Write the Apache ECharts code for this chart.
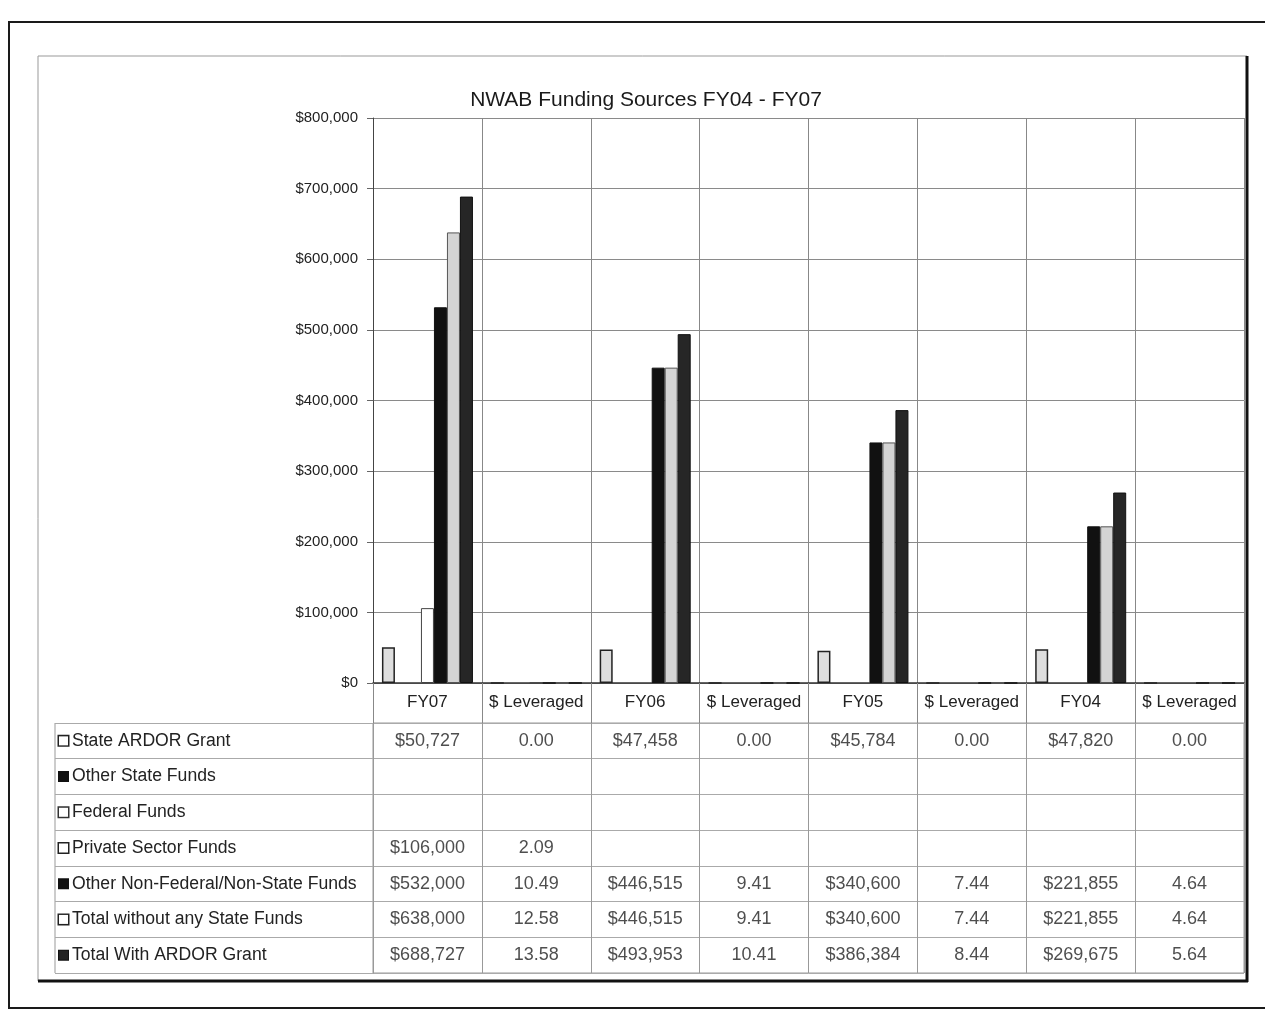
<!DOCTYPE html>
<html>
<head>
<meta charset="utf-8">
<title>NWAB Funding Sources</title>
<script src="https://cdn.jsdelivr.net/npm/echarts@6/dist/echarts.min.js"></script>
<style>
html, body { margin: 0; padding: 0; background: #fff; }
#main { width: 1265px; height: 1018px; }
</style>
</head>
<body>
<div id="main"></div>
<script>
// 数据
var categories = ['FY07', '$ Leveraged', 'FY06', '$ Leveraged', 'FY05', '$ Leveraged', 'FY04', '$ Leveraged'];
var rowNames = ['State ARDOR Grant', 'Other State Funds', 'Federal Funds', 'Private Sector Funds',
    'Other Non-Federal/Non-State Funds', 'Total without any State Funds', 'Total With ARDOR Grant'];
var stateArdor   = [50727, 0.00, 47458, 0.00, 45784, 0.00, 47820, 0.00];
var otherState   = [null, null, null, null, null, null, null, null];
var federal      = [null, null, null, null, null, null, null, null];
var privateFunds = [106000, 2.09, null, null, null, null, null, null];
var otherNonFed  = [532000, 10.49, 446515, 9.41, 340600, 7.44, 221855, 4.64];
var totalNoState = [638000, 12.58, 446515, 9.41, 340600, 7.44, 221855, 4.64];
var totalArdor   = [688727, 13.58, 493953, 10.41, 386384, 8.44, 269675, 5.64];

var allRows = [stateArdor, otherState, federal, privateFunds, otherNonFed, totalNoState, totalArdor];

// 样式
var FONT = "'Liberation Sans', Arial, sans-serif";
var barStyles = [
    { color: '#dedede', borderColor: '#222', borderWidth: 1.5 },
    { color: '#111', borderColor: '#111', borderWidth: 1 },
    { color: '#fff', borderColor: '#333', borderWidth: 1 },
    { color: '#fff', borderColor: '#444', borderWidth: 1 },
    { color: '#111', borderColor: '#111', borderWidth: 1 },
    { color: '#d4d4d4', borderColor: '#555', borderWidth: 1 },
    { color: '#262626', borderColor: '#111', borderWidth: 1 }
];
var keyStyles = {
    k0: { width: 9, height: 9, backgroundColor: '#fff', borderColor: '#222', borderWidth: 1.5 },
    k1: { width: 9, height: 9, backgroundColor: '#111', borderColor: '#111', borderWidth: 1 },
    k2: { width: 9, height: 9, backgroundColor: '#fff', borderColor: '#333', borderWidth: 1.5 },
    k3: { width: 9, height: 9, backgroundColor: '#fff', borderColor: '#222', borderWidth: 1.5 },
    k4: { width: 9, height: 9, backgroundColor: '#111', borderColor: '#111', borderWidth: 1 },
    k5: { width: 9, height: 9, backgroundColor: '#fff', borderColor: '#222', borderWidth: 1.5 },
    k6: { width: 9, height: 9, backgroundColor: '#222', borderColor: '#111', borderWidth: 1 },
    t: { fontSize: 17.6, fontFamily: FONT, color: '#222', padding: [0, 0, 0, 4] }
};

function fmtMoney(v) {
    return '$' + Math.round(v).toLocaleString('en-US');
}

// 表格单元
var cells = [];
allRows.forEach(function (row, r) {
    row.forEach(function (v, c) {
        if (v !== null) cells.push([c, r, v]);
    });
});

var series = allRows.map(function (row, i) {
    return {
        name: rowNames[i],
        type: 'bar',
        xAxisIndex: 0,
        yAxisIndex: 0,
        barWidth: 13,
        barGap: '0%',
        itemStyle: barStyles[i],
        data: row,
        silent: true
    };
});
series.push({
    type: 'scatter',
    xAxisIndex: 1,
    yAxisIndex: 1,
    symbolSize: 0,
    silent: true,
    data: cells,
    label: {
        show: true,
        position: 'inside',
        fontSize: 18,
        fontFamily: FONT,
        color: '#222',
        formatter: function (p) {
            var c = p.value[0], v = p.value[2];
            return c % 2 === 1 ? v.toFixed(2) : fmtMoney(v);
        }
    }
});

var myChart = echarts.init(document.getElementById('main'));
var option = {
    backgroundColor: '#fff',
    animation: false,
    title: {
        text: 'NWAB Funding Sources FY04 - FY07',
        left: 641,
        top: 85,
        textAlign: 'center',
        textStyle: { fontSize: 21, fontWeight: 'normal', fontFamily: FONT, color: '#1a1a1a' }
    },
    grid: [
        { left: 373, top: 118, width: 871, height: 565 },
        { left: 373, top: 723, width: 871, height: 250, show: true, borderColor: '#999', borderWidth: 1 }
    ],
    xAxis: [
        {
            type: 'category',
            gridIndex: 0,
            data: categories,
            axisLine: { lineStyle: { color: '#333', width: 1.5 } },
            axisTick: { show: true, length: 40, lineStyle: { color: '#888' } },
            axisLabel: { margin: 11, fontSize: 17, fontFamily: FONT, color: '#222', interval: 0 },
            splitLine: { show: true, interval: 0, lineStyle: { color: '#888' } }
        },
        {
            type: 'category',
            gridIndex: 1,
            data: categories,
            axisLine: { show: false },
            axisTick: { show: false },
            axisLabel: { show: false },
            splitLine: { show: true, interval: 0, lineStyle: { color: '#999' } }
        }
    ],
    yAxis: [
        {
            type: 'value',
            gridIndex: 0,
            min: 0,
            max: 800000,
            interval: 100000,
            axisLine: { show: true, lineStyle: { color: '#444' } },
            axisTick: { show: true, length: 6, lineStyle: { color: '#666' } },
            axisLabel: {
                margin: 15,
                fontSize: 15,
                fontFamily: FONT,
                color: '#222',
                formatter: function (v) { return fmtMoney(v); }
            },
            splitLine: { show: true, lineStyle: { color: '#8a8a8a' } }
        },
        {
            type: 'category',
            gridIndex: 1,
            inverse: true,
            data: rowNames,
            axisLine: { show: true, lineStyle: { color: '#999' } },
            axisTick: { show: true, length: 318, lineStyle: { color: '#aaa' } },
            axisLabel: {
                align: 'left',
                margin: 314,
                interval: 0,
                formatter: function (name) {
                    var i = rowNames.indexOf(name);
                    return '{k' + i + '|}{t|' + name + '}';
                },
                rich: keyStyles
            },
            splitLine: { show: true, interval: 0, lineStyle: { color: '#aaa' } }
        }
    ],
    series: series,
    graphic: [
        // 外框
        { type: 'rect', silent: true, shape: { x: 9, y: 22, width: 1275, height: 986 },
          style: { fill: null, stroke: '#1a1a1a', lineWidth: 2 } },
        // 图表区边框
        { type: 'rect', silent: true, shape: { x: 38, y: 56, width: 1209, height: 925 },
          style: { fill: null, stroke: '#999', lineWidth: 1 } },
        { type: 'line', silent: true, shape: { x1: 1247, y1: 56, x2: 1247, y2: 982 },
          style: { stroke: '#111', lineWidth: 3 } },
        { type: 'line', silent: true, shape: { x1: 38, y1: 981, x2: 1248, y2: 981 },
          style: { stroke: '#111', lineWidth: 3 } },
        // 表格左边线
        { type: 'line', silent: true, shape: { x1: 55, y1: 723, x2: 55, y2: 973 },
          style: { stroke: '#999', lineWidth: 1 } }
    ]
};
myChart.setOption(option);
</script>
</body>
</html>
